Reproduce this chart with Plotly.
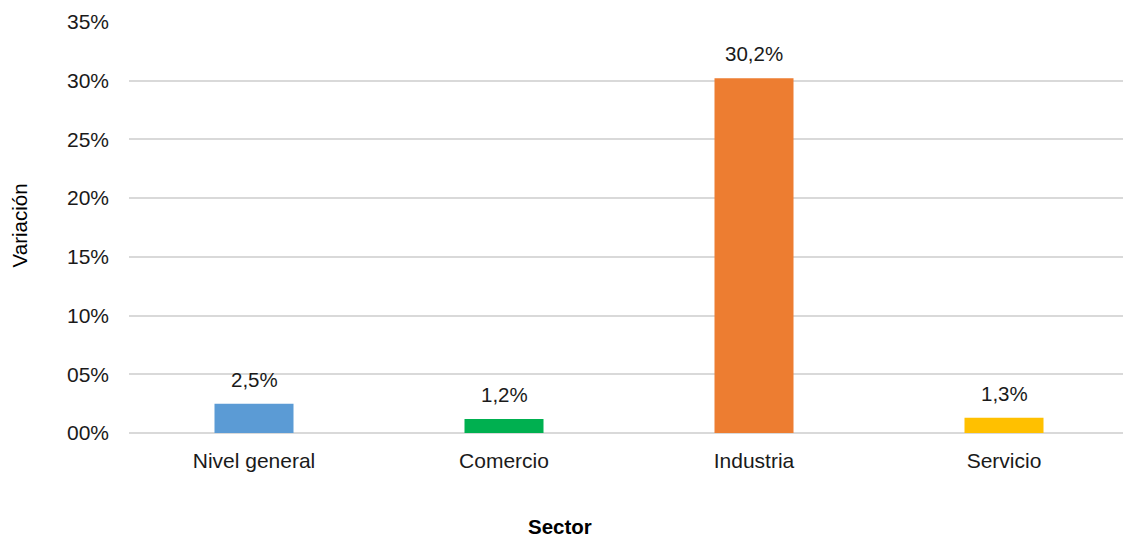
import plotly.graph_objects as go

categories = ["Nivel general", "Comercio", "Industria", "Servicio"]
values = [2.5, 1.2, 30.2, 1.3]
colors = ["#5B9BD5", "#00B050", "#ED7D31", "#FFC000"]
tick_vals = [0, 5, 10, 15, 20, 25, 30, 35]
tick_text = ["00%", "05%", "10%", "15%", "20%", "25%", "30%", "35%"]

FONT = "Liberation Sans, Arial, Helvetica, sans-serif"

fig = go.Figure()
fig.add_trace(go.Bar(
    x=categories, y=values, marker=dict(color=colors, line=dict(width=0)),
    width=0.316, showlegend=False, hoverinfo="skip",
))

for c, v in zip(categories, values):
    fig.add_annotation(x=c, y=v, text=f"{v:.1f}".replace(".", ",") + "%",
                       showarrow=False, yanchor="bottom", yshift=11,
                       font=dict(family=FONT, size=20.5, color="#1a1a1a"))

fig.add_annotation(xref="paper", yref="paper", x=(560 - 129) / 994, y=-0.2287,
                   text="<b>Sector</b>", showarrow=False, yanchor="middle",
                   font=dict(family=FONT, size=20.5, color="#000000"))
fig.add_annotation(xref="paper", yref="paper", x=-0.1107, y=0.505,
                   text="Variación", textangle=-90, showarrow=False,
                   xanchor="center", yanchor="middle",
                   font=dict(family=FONT, size=20.5, color="#000000"))

fig.update_layout(
    width=1123, height=539,
    margin=dict(l=129, r=0, t=22, b=106),
    paper_bgcolor="white", plot_bgcolor="white",
    font=dict(family=FONT, size=21, color="#1a1a1a"),
    xaxis=dict(range=[-0.5, 3.476], showgrid=False, showline=False,
               ticks="", tickfont=dict(size=21), ticklabelstandoff=13),
    yaxis=dict(range=[0, 35], tickvals=tick_vals, ticktext=tick_text,
               showgrid=True, gridcolor="#d9d9d9", gridwidth=1.5,
               zeroline=True, zerolinecolor="#d9d9d9", zerolinewidth=1.5,
               showline=False, ticks="", ticklabelstandoff=19,
               tickfont=dict(size=21)),
)

fig.write_html("out.html",
               config={"displayModeBar": False},
               post_script="document.body.style.margin='0px';"
                           "document.body.style.overflow='hidden';")
